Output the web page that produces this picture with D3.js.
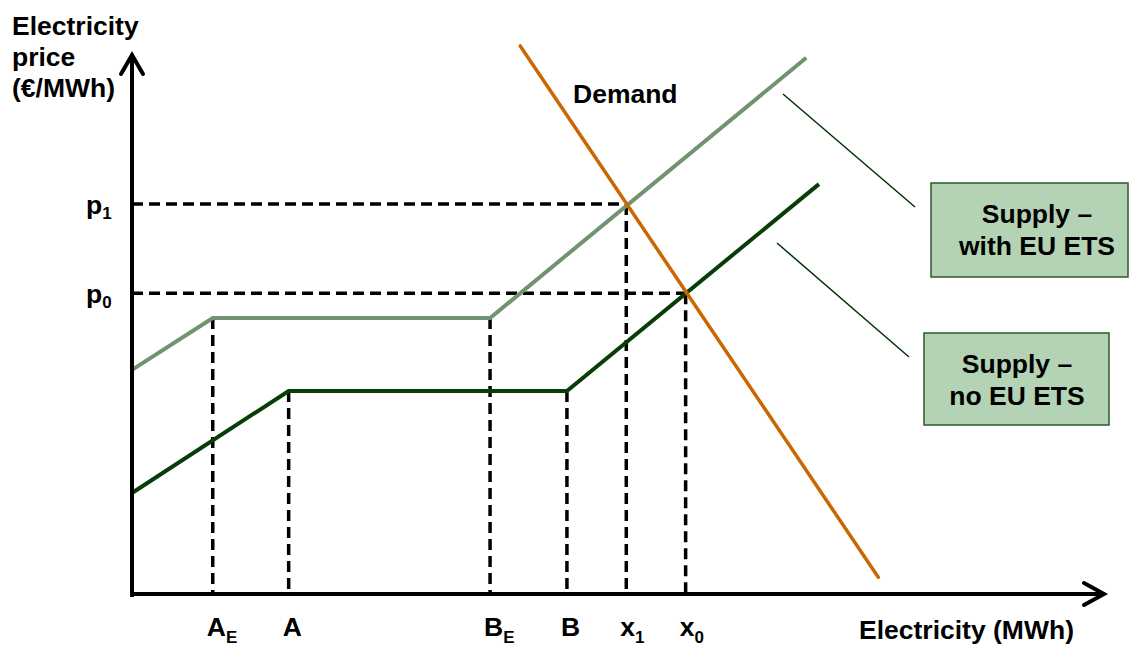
<!DOCTYPE html>
<html>
<head>
<meta charset="utf-8">
<script src="https://cdn.jsdelivr.net/npm/d3@7"></script>
<style>
    body { margin: 0; background: #fff; }
    svg { display: block; }
    text { font-family: "Liberation Sans", Arial, sans-serif; font-weight: bold; fill: #000; }
</style>
</head>
<body>
<div id="graph"></div>
<script>
// quantity ticks on the x axis (arbitrary units)
const qNames = ["A", "A", "B", "B", "x", "x"];
const qSubs = ["E", "", "E", "", "1", "0"];
const qValues = [8.3, 16.1, 36.8, 44.7, 50.8, 56.9];
// price where each dashed drop line starts
const qTops = [51.1, 37.6, 51.1, 37.6, 72.2, 55.7];

// price ticks on the y axis
const pNames = ["p", "p"];
const pSubs = ["1", "0"];
const pValues = [72.2, 55.7];
const pRight = [50.8, 56.9];

// supply with EU ETS
const supplyEtsQ = [0, 8.3, 36.8, 69.3];
const supplyEtsP = [41.5, 51.1, 51.1, 99.3];

// supply without EU ETS
const supplyQ = [0, 16.1, 44.7, 70.6];
const supplyP = [18.7, 37.6, 37.6, 75.9];

// demand
const demandQ = [39.9, 76.7];
const demandP = [101.5, 3.1];

const width = 1130, height = 647;
const fs = "26.5px", subFs = "17px";

let svg = d3.select("#graph")
    .append("svg")
    .attr("width", width)
    .attr("height", height);

let x = d3.scaleLinear().domain([0, 100]).range([132, 1105]);
let y = d3.scaleLinear().domain([0, 100]).range([594, 54]);

let line = d3.line()
    .x((d) => x(d[0]))
    .y((d) => y(d[1]));

// dashed guide lines
const dash = "11,6";
qValues.forEach((q, i) => {
    svg.append("line")
        .attr("x1", x(q)).attr("x2", x(q))
        .attr("y1", y(qTops[i])).attr("y2", y(0))
        .attr("stroke", "#000")
        .attr("stroke-width", 3.5)
        .attr("stroke-dasharray", dash);
});
pValues.forEach((p, i) => {
    svg.append("line")
        .attr("x1", x(0)).attr("x2", x(pRight[i]))
        .attr("y1", y(p)).attr("y2", y(p))
        .attr("stroke", "#000")
        .attr("stroke-width", 3.5)
        .attr("stroke-dasharray", dash);
});

// curves
svg.append("path")
    .datum(d3.zip(supplyEtsQ, supplyEtsP))
    .attr("d", line)
    .attr("fill", "none")
    .attr("stroke", "#729272")
    .attr("stroke-width", 4);

svg.append("path")
    .datum(d3.zip(supplyQ, supplyP))
    .attr("d", line)
    .attr("fill", "none")
    .attr("stroke", "#073d07")
    .attr("stroke-width", 4);

svg.append("path")
    .datum(d3.zip(demandQ, demandP))
    .attr("d", line)
    .attr("fill", "none")
    .attr("stroke", "#cc6600")
    .attr("stroke-width", 3.5)
    .attr("stroke-linecap", "round");

// axes with open arrowheads
const x0 = x(0), y0 = y(0);
svg.append("path")
    .attr("d", "M" + x0 + "," + (y0 + 3) + "V55")
    .attr("stroke", "#000").attr("stroke-width", 4).attr("fill", "none");
svg.append("path")
    .attr("d", "M" + (x0 - 11) + ",74L" + x0 + ",55L" + (x0 + 11) + ",74")
    .attr("stroke", "#000").attr("stroke-width", 4).attr("fill", "none")
    .attr("stroke-linecap", "round").attr("stroke-linejoin", "miter");
svg.append("path")
    .attr("d", "M" + (x0 - 2) + "," + y0 + "H1104")
    .attr("stroke", "#000").attr("stroke-width", 4).attr("fill", "none");
svg.append("path")
    .attr("d", "M1084," + (y0 - 11) + "L1104," + y0 + "L1084," + (y0 + 11))
    .attr("stroke", "#000").attr("stroke-width", 4).attr("fill", "none")
    .attr("stroke-linecap", "round").attr("stroke-linejoin", "miter");

// x tick labels
qValues.forEach((q, i) => {
    let t = svg.append("text")
        .attr("x", x(q) - 6)
        .attr("y", 636)
        .attr("font-size", fs)
        .text(qNames[i]);
    t.append("tspan")
        .attr("font-size", subFs)
        .attr("dy", 7)
        .text(qSubs[i]);
});

// y tick labels
pValues.forEach((p, i) => {
    let t = svg.append("text")
        .attr("x", 86)
        .attr("y", y(p) + 10)
        .attr("font-size", fs)
        .text(pNames[i]);
    t.append("tspan")
        .attr("font-size", subFs)
        .attr("dy", 5)
        .text(pSubs[i]);
});

// axis titles
["Electricity", "price", "(€/MWh)"].forEach((d, i) => {
    svg.append("text")
        .attr("x", 12)
        .attr("y", 35 + i * 31)
        .attr("font-size", fs)
        .text(d);
});

svg.append("text")
    .attr("x", 859)
    .attr("y", 639)
    .attr("font-size", fs)
    .text("Electricity (MWh)");

svg.append("text")
    .attr("x", 573)
    .attr("y", 103)
    .attr("font-size", fs)
    .text("Demand");

// callout boxes
const boxes = [
    { x: 931, y: 183, w: 197, h: 94, cx: 1037, lines: ["Supply \u2013", "with EU ETS"], lead: [783, 94, 915, 207] },
    { x: 924, y: 333, w: 185, h: 92, cx: 1017, lines: ["Supply \u2013", "no EU ETS"], lead: [777, 243, 909, 357] }
];

boxes.forEach((b) => {
    svg.append("line")
        .attr("x1", b.lead[0]).attr("y1", b.lead[1])
        .attr("x2", b.lead[2]).attr("y2", b.lead[3])
        .attr("stroke", "#003300")
        .attr("stroke-width", 1.5);
    svg.append("rect")
        .attr("x", b.x).attr("y", b.y)
        .attr("width", b.w).attr("height", b.h)
        .attr("fill", "#b4d3b4")
        .attr("stroke", "#2e5a2e")
        .attr("stroke-width", 1.5);
    b.lines.forEach((d, i) => {
        svg.append("text")
            .attr("x", b.cx)
            .attr("y", b.y + 40 + i * 32)
            .attr("text-anchor", "middle")
            .attr("font-size", fs)
            .text(d);
    });
});
</script>
</body>
</html>
